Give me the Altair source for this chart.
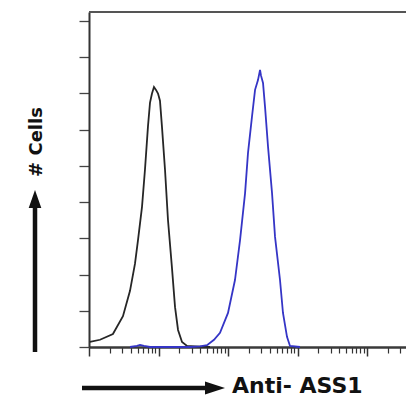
import altair as alt
import pandas as pd

# Isotype control (black) histogram: fluorescence intensity vs cell count
ctrl_x = [1.03, 1.44, 2.21, 3.08, 3.89, 4.59, 5.07, 5.79, 6.39, 7.06, 7.55, 8.06, 8.61,
          9.20, 9.84, 10.5, 11.2, 12.4, 13.7, 15.6, 17.3, 19.1, 21.8, 25.7, 33.5, 55.1]
ctrl_y = [0.14, 0.2, 0.36, 0.85, 1.55, 2.3, 2.95, 3.87, 4.9, 6.1, 6.75, 7.0, 7.18,
          7.1, 7.0, 6.8, 6.1, 4.9, 3.5, 2.2, 1.1, 0.47, 0.14, 0.03, 0.02, 0.0]

# Anti-ASS1 (blue) histogram
ass1_x = [3.89, 4.9, 5.42, 6.18, 7.55, 28.4, 39.5, 49.9, 62.9, 76.7, 100, 126, 149, 176,
          194, 221, 245, 270, 289, 298, 319, 341, 377, 430, 475, 560, 618, 706, 780, 1086]
ass1_y = [0.0, 0.03, 0.06, 0.03, 0.0, 0.0, 0.02, 0.05, 0.2, 0.39, 0.94, 1.85, 2.95, 4.25,
          5.36, 6.35, 7.1, 7.37, 7.65, 7.5, 7.29, 6.63, 5.52, 4.25, 3.04, 1.85, 0.94, 0.28,
          0.03, 0.0]

major_ticks = [1, 10, 100, 1000, 10000]
minor_ticks = [k * 10 ** d for d in range(5) for k in range(2, 10) if k * 10 ** d <= 36000]
y_ticks = list(range(10))

x_title = "Anti- ASS1"
y_title = "# Cells"

W, H = 317, 335
ctrl = pd.DataFrame({"x": ctrl_x, "y": ctrl_y})
ass1 = pd.DataFrame({"x": ass1_x, "y": ass1_y})
dummy = pd.DataFrame({"a": [0]})

xscale = alt.Scale(type="log", domain=[1, 36390], nice=False)
yscale = alt.Scale(domain=[0, 9.25], nice=False)

ink = "#111111"

yaxis = alt.Axis(values=y_ticks, labels=False, title=None, grid=False,
                 orient="left", tickSize=10, tickColor="#444", tickWidth=1.3,
                 domainColor="#333", domainWidth=2)

black = alt.Chart(ctrl).mark_line(color="#262626", strokeWidth=1.8).encode(
    x=alt.X("x:Q", scale=xscale,
            axis=alt.Axis(values=minor_ticks, labels=False, title=None, grid=False,
                          orient="bottom", tickSize=6, tickColor="#333", tickWidth=1.2,
                          domainColor="#3a3a3a", domainWidth=2)),
    y=alt.Y("y:Q", scale=yscale, axis=yaxis),
)

blue = alt.Chart(ass1).mark_line(color="#3535c6", strokeWidth=1.8).encode(
    x=alt.X("x:Q", scale=xscale,
            axis=alt.Axis(values=major_ticks, labels=False, title=None, grid=False,
                          orient="bottom", tickSize=9, tickColor="#333", tickWidth=1.5,
                          domainColor="#3a3a3a", domainWidth=2)),
    y=alt.Y("y:Q", scale=yscale, axis=yaxis),
)

top_line = alt.Chart(dummy).mark_rule(color="#555", strokeWidth=2.2).encode(
    x=alt.value(0), x2=alt.value(W), y=alt.value(0)
)

# horizontal arrow + x label
h_shaft = alt.Chart(dummy).mark_rule(color=ink, strokeWidth=4.5).encode(
    x=alt.value(-7), x2=alt.value(120), y=alt.value(376)
)
h_head = alt.Chart(dummy).mark_point(
    shape="M-1,-0.65L1,0L-1,0.65Z", filled=True, color=ink, opacity=1, size=400
).encode(x=alt.value(126), y=alt.value(376))
x_label = alt.Chart(dummy).mark_text(
    text=x_title, font="DejaVu Sans", fontWeight="bold", fontSize=22, color=ink,
    align="left", baseline="alphabetic"
).encode(x=alt.value(143), y=alt.value(381))

# vertical arrow + y label
v_shaft = alt.Chart(dummy).mark_rule(color=ink, strokeWidth=4.5).encode(
    x=alt.value(-54), y=alt.value(340), y2=alt.value(192)
)
v_head = alt.Chart(dummy).mark_point(
    shape="M-0.7,1L0,-1L0.7,1Z", filled=True, color=ink, opacity=1, size=324
).encode(x=alt.value(-54), y=alt.value(187))
y_label = alt.Chart(dummy).mark_text(
    text=y_title, font="DejaVu Sans", fontWeight="bold", fontSize=18, color=ink,
    align="center", baseline="middle", angle=270
).encode(x=alt.value(-52), y=alt.value(130))

chart = alt.layer(
    black, blue, top_line, h_shaft, h_head, x_label, v_shaft, v_head, y_label
).resolve_axis(x="independent").properties(
    width=W, height=H,
    autosize=alt.AutoSizeParams(type="none"),
    padding={"left": 81, "top": 4, "right": 0, "bottom": 52},
    background="white",
).configure_view(stroke="transparent")

chart.save("out.html", embed_options={"renderer": "svg", "actions": False})
